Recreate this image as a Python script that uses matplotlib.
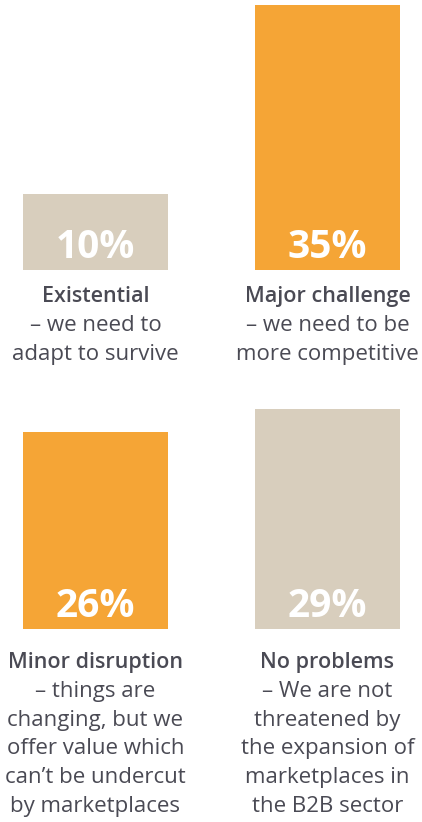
import matplotlib
matplotlib.use("Agg")
import matplotlib.pyplot as plt

plt.rcParams['font.family'] = ['Open Sans', 'DejaVu Sans']

categories = ["Existential", "Major challenge", "Minor disruption", "No problems"]
descriptions = [
    ["– we need to", "adapt to survive"],
    ["– we need to be", "more competitive"],
    ["– things are", "changing, but we", "offer value which",
     "can’t be undercut", "by marketplaces"],
    ["– We are not", "threatened by", "the expansion of",
     "marketplaces in", "the B2B sector"],
]
shares = [10, 35, 26, 29]

ORANGE = "#f5a536"
BEIGE = "#d8cebd"
TEXT = "#4a4a54"
bar_colors = [BEIGE, ORANGE, ORANGE, BEIGE]

W, H = 422, 822
PX_PER_PCT = 7.58
# column spacing in px, first column centre in px, bar width in px
COL_STEP, COL0, BAR_W = 232.0, 95.5, 145.0

fig = plt.figure(figsize=(W / 100, H / 100), dpi=100)
fig.patch.set_facecolor("white")

# (axes top px, axes bottom px, gap to title baseline px)
rows = [(0, 270, 32), (400, 629, 39)]

for r, (top, bottom, title_gap) in enumerate(rows):
    ax = fig.add_axes([0, (H - bottom) / H, 1, (bottom - top) / H])
    ax.set_xlim(-COL0 / COL_STEP, (W - COL0) / COL_STEP)
    ax.set_ylim(0, (bottom - top) / PX_PER_PCT)
    ax.axis("off")

    idx = [2 * r, 2 * r + 1]
    xs = [0, 1]
    vals = [shares[i] for i in idx]
    ax.bar(xs, vals, width=BAR_W / COL_STEP,
           color=[bar_colors[i] for i in idx], align="center")

    pt = 72 / 100  # points per pixel
    for x, i in zip(xs, idx):
        ax.annotate(f"{shares[i]}%", xy=(x, 0), xytext=(0, 12 * pt),
                    textcoords="offset points", ha="center", va="baseline",
                    color="white", fontsize=28, fontweight="bold")
        ax.annotate(categories[i], xy=(x, 0), xytext=(0, -title_gap * pt),
                    textcoords="offset points", ha="center", va="baseline",
                    color=TEXT, fontsize=15.5, fontweight="semibold",
                    annotation_clip=False)
        for k, line in enumerate(descriptions[i]):
            ax.annotate(line, xy=(x, 0),
                        xytext=(0, -(title_gap + 28.8 * (k + 1)) * pt),
                        textcoords="offset points", ha="center", va="baseline",
                        color=TEXT, fontsize=16, annotation_clip=False)

fig.savefig("out.png", dpi=100, facecolor="white")
